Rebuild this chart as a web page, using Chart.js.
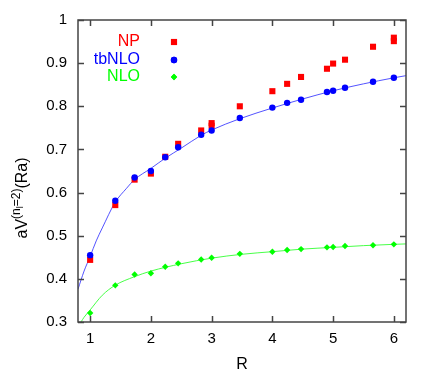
<!DOCTYPE html>
<html><head><meta charset="utf-8">
<script src="https://cdn.jsdelivr.net/npm/chart.js@4/dist/chart.umd.min.js"></script>
<style>html,body{margin:0;padding:0;background:#fff}</style>
</head><body>
<canvas id="c" width="436" height="374"></canvas>
<script>
// ---- data ----
const R = [1, 1.414, 1.732, 2, 2.236, 2.449, 2.828, 3, 3.464, 4, 4.243, 4.472, 4.899, 5, 5.196, 5.657, 6];
const tbNLO = [0.455, 0.581, 0.635, 0.650, 0.682, 0.705, 0.734, 0.744, 0.773, 0.797, 0.808, 0.815, 0.833, 0.836, 0.843, 0.857, 0.866];
const NLO = [0.321, 0.385, 0.410, 0.413, 0.428, 0.436, 0.445, 0.449, 0.458, 0.463, 0.467, 0.469, 0.473, 0.474, 0.476, 0.478, 0.480];
const NP_R = [1, 1.414, 1.732, 2, 2.236, 2.449, 2.828, 3, 3, 3.464, 4, 4.243, 4.472, 4.899, 5, 5.196, 5.657, 6, 6];
const NP = [0.444, 0.571, 0.630, 0.644, 0.683, 0.713, 0.744, 0.755, 0.761, 0.800, 0.835, 0.852, 0.868, 0.887, 0.899, 0.908, 0.938, 0.951, 0.959];
// fit curves
const fitTbR = [0.8, 0.9, 1.0, 1.1, 1.2, 1.41, 1.6, 1.73, 2.0, 2.24, 2.5, 2.83, 3.0, 3.46, 4.0, 4.5, 5.0, 5.5, 6.0, 6.2];
const fitTb = [0.376, 0.418, 0.452, 0.488, 0.518, 0.577, 0.610, 0.630, 0.656, 0.680, 0.703, 0.733, 0.745, 0.771, 0.796, 0.817, 0.836, 0.852, 0.866, 0.871];
const fitNloR = [0.85, 0.9, 1.0, 1.2, 1.41, 1.73, 2.0, 2.5, 3.0, 3.5, 4.0, 4.5, 5.0, 5.5, 6.0, 6.2];
const fitNlo = [0.300, 0.311, 0.328, 0.362, 0.385, 0.405, 0.418, 0.435, 0.448, 0.457, 0.463, 0.469, 0.473, 0.477, 0.480, 0.481];
const xTicks = [1, 2, 3, 4, 5, 6];
const yTicks = [0.3, 0.4, 0.5, 0.6, 0.7, 0.8, 0.9, 1.0];
const yTickLabels = ['0.3', '0.4', '0.5', '0.6', '0.7', '0.8', '0.9', '1'];
const legendNames = ['NP', 'tbNLO', 'NLO'];

const RED = '#ff0000', BLUE = '#0000ff', GREEN = '#00ff00';
const FONT = '"Liberation Sans", Arial, Helvetica, sans-serif';
const pts = (xs, ys) => xs.map((x, i) => ({x, y: ys[i]}));

const frame = {
  id: 'frame',
  afterDatasetsDraw(chart) {
    const ctx = chart.ctx, a = chart.chartArea, xs = chart.scales.x, ys = chart.scales.y;
    ctx.save();
    ctx.strokeStyle = '#444';
    ctx.lineWidth = 1.5;
    ctx.strokeRect(a.left, a.top, a.right - a.left, a.bottom - a.top);
    ctx.beginPath();
    xTicks.forEach(v => {
      const p = Math.round(xs.getPixelForValue(v)) + 0.5;
      ctx.moveTo(p, a.bottom); ctx.lineTo(p, a.bottom - 6);
      ctx.moveTo(p, a.top); ctx.lineTo(p, a.top + 6);
    });
    yTicks.forEach(v => {
      const p = Math.round(ys.getPixelForValue(v)) + 0.5;
      ctx.moveTo(a.left, p); ctx.lineTo(a.left + 6, p);
      ctx.moveTo(a.right, p); ctx.lineTo(a.right - 6, p);
    });
    ctx.stroke();

    // legend
    const styles = [
      {c: RED, s: 'rect', r: 4.3},
      {c: BLUE, s: 'circle', r: 3.2},
      {c: GREEN, s: 'rectRot', r: 3.2}
    ];
    ctx.font = '16px ' + FONT;
    ctx.textAlign = 'right';
    ctx.textBaseline = 'middle';
    const rowsY = [42, 60, 77];
    legendNames.forEach((n, i) => {
      ctx.fillStyle = styles[i].c;
      ctx.fillText(n, 140, rowsY[i]);
      Chart.helpers.drawPoint(ctx, {pointStyle: styles[i].s, radius: styles[i].r, borderWidth: 0}, 174, rowsY[i]);
      ctx.fill();
    });

    // x title
    ctx.fillStyle = '#000';
    ctx.textAlign = 'center';
    ctx.textBaseline = 'alphabetic';
    ctx.font = '16px ' + FONT;
    ctx.fillText('R', (a.left + a.right) / 2, 369);

    // y title: aV^{(n_l=2)}(Ra)
    ctx.save();
    ctx.translate(27, 198);
    ctx.rotate(-Math.PI / 2);
    const parts = [
      {t: 'aV', f: 16, dy: 0},
      {t: '(n', f: 12, dy: -7},
      {t: 'l', f: 9, dy: -4},
      {t: '=2)', f: 12, dy: -7},
      {t: '(Ra)', f: 16, dy: 0}
    ];
    let total = 0;
    parts.forEach(p => { ctx.font = p.f + 'px ' + FONT; p.w = ctx.measureText(p.t).width; total += p.w; });
    let x = -total / 2;
    ctx.textAlign = 'left';
    parts.forEach(p => { ctx.font = p.f + 'px ' + FONT; ctx.fillText(p.t, x, p.dy); x += p.w; });
    ctx.restore();
    ctx.restore();
  }
};

new Chart(document.getElementById('c'), {
  type: 'scatter',
  data: {
    datasets: [
      {label: 'tbNLO', data: pts(R, tbNLO), pointStyle: 'circle', pointRadius: 3.2, pointBorderWidth: 0, backgroundColor: BLUE, order: 1},
      {label: 'NP', data: pts(NP_R, NP), pointStyle: 'rect', pointRadius: 4.3, pointBorderWidth: 0, backgroundColor: RED, order: 2},
      {label: 'NLO', data: pts(R, NLO), pointStyle: 'rectRot', pointRadius: 3.2, pointBorderWidth: 0, backgroundColor: GREEN, order: 3},
      {label: 'fit tbNLO', data: pts(fitTbR, fitTb), showLine: true, pointRadius: 0, borderColor: 'rgba(40,40,255,0.8)', borderWidth: 1, cubicInterpolationMode: 'monotone', order: 4},
      {label: 'fit NLO', data: pts(fitNloR, fitNlo), showLine: true, pointRadius: 0, borderColor: 'rgba(40,255,40,0.85)', borderWidth: 1, cubicInterpolationMode: 'monotone', order: 5}
    ]
  },
  options: {
    responsive: false,
    animation: false,
    devicePixelRatio: 1,
    layout: {padding: {left: 0, right: 30, top: 19, bottom: 0}},
    plugins: {legend: {display: false}, tooltip: {enabled: false}},
    scales: {
      x: {
        type: 'linear', min: 0.8, max: 6.2,
        afterBuildTicks: s => { s.ticks = xTicks.map(v => ({value: v})); },
        afterFit: s => { s.height = 52; },
        grid: {display: false, drawTicks: false},
        border: {display: false},
        ticks: {color: '#000', font: {family: FONT, size: 15}, padding: 8, maxRotation: 0, callback: v => String(v)}
      },
      y: {
        type: 'linear', min: 0.3, max: 1.0,
        afterBuildTicks: s => { s.ticks = yTicks.map(v => ({value: v})); },
        afterFit: s => { s.width = 78; },
        grid: {display: false, drawTicks: false},
        border: {display: false},
        ticks: {color: '#000', font: {family: FONT, size: 15}, padding: 11,
          callback: (v, i) => yTickLabels[i]}
      }
    }
  },
  plugins: [frame]
});
</script>
</body></html>
